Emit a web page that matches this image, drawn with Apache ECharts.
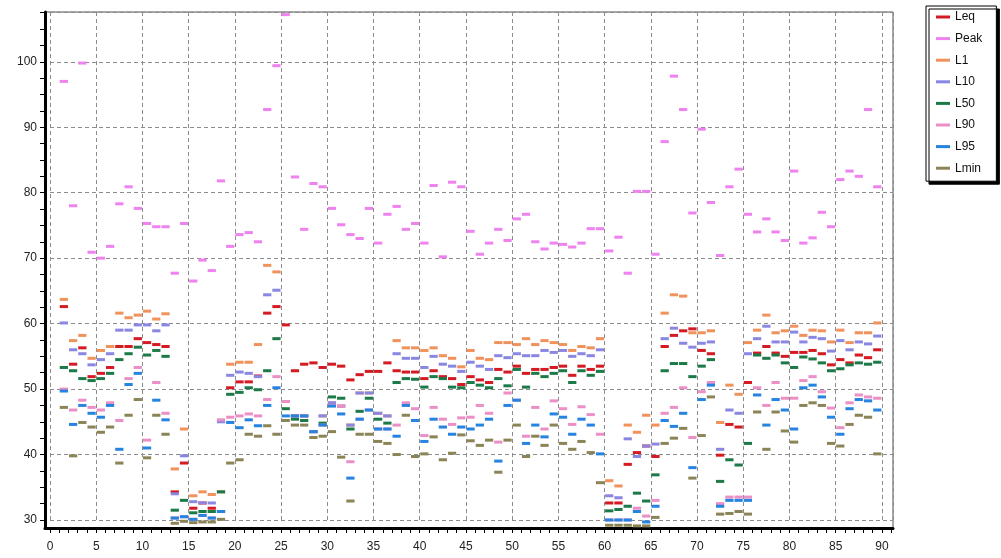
<!DOCTYPE html>
<html><head><meta charset="utf-8">
<script src="https://cdn.jsdelivr.net/npm/echarts@6/dist/echarts.min.js"></script>
<style>html,body{margin:0;padding:0;background:#fff}#c{width:1001px;height:558px}</style>
</head><body><div id="c"></div>
<script>
const seriesNames = ['Leq','Peak','L1','L10','L50','L90','L95','Lmin'];
const xLabels = [0,5,10,15,20,25,30,35,40,45,50,55,60,65,70,75,80,85,90];
const yLabels = [30,40,50,60,70,80,90,100];

const leq = [62.6,53.8,56.3,51.9,52.4,53.3,56.5,56.5,57.7,57.1,
 56.8,56.5,34.3,38.7,31.8,32.6,31.8,31.3,50.2,51.1,
 51.1,52.0,61.6,62.6,59.8,52.8,53.8,54.0,53.3,53.8,
 53.5,51.4,52.2,52.7,52.7,54.0,52.8,52.6,52.6,51.6,
 52.8,51.9,51.6,50.7,51.9,51.4,51.0,53.0,52.6,53.5,
 52.4,53.0,53.0,53.3,53.5,52.1,53.5,53.0,53.5,32.6,
 32.6,38.5,40.3,41.3,39.7,56.5,58.2,58.9,59.2,55.9,
 55.4,39.9,44.6,44.2,51.0,55.5,56.5,55.5,55.0,55.6,
 55.6,55.9,55.4,53.7,54.5,54.0,55.2,54.8,56.0];
const peak = [97.0,78.0,99.8,70.9,70.0,71.8,78.3,80.9,77.6,75.3,
 74.8,74.8,67.7,75.3,66.5,69.7,68.1,81.8,71.8,73.6,
 73.9,72.5,92.7,99.4,107.2,82.4,74.4,81.4,80.9,77.6,
 75.1,73.6,73.0,77.6,72.3,76.7,77.9,74.4,75.3,72.3,
 81.1,70.2,81.6,80.9,74.1,70.6,72.3,74.4,72.7,76.0,
 76.7,72.5,71.4,72.3,72.1,71.7,72.3,74.5,74.5,71.1,
 73.2,67.7,80.2,80.2,70.6,87.8,97.8,92.7,76.9,89.7,
 78.5,70.4,80.9,83.6,76.7,74.0,76.0,74.0,72.7,83.3,
 72.3,73.1,77.0,74.8,82.0,83.3,82.5,92.7,80.9];
const l1 = [63.7,57.4,58.2,54.7,55.9,56.5,61.6,60.9,61.3,61.9,
 60.7,61.5,37.8,43.9,33.7,34.3,33.9,34.3,53.8,54.1,
 54.1,56.8,68.9,67.9,48.1,45.9,45.9,43.5,45.9,47.9,
 47.4,44.5,49.4,49.4,46.3,45.9,57.4,56.3,56.3,55.9,
 56.3,55.1,54.7,53.4,55.9,54.7,54.5,57.1,57.1,56.8,
 57.7,56.8,57.4,57.1,56.8,55.9,56.5,56.3,57.7,36.0,
 35.2,44.5,43.4,46.0,44.5,61.6,64.4,64.2,58.6,58.6,
 58.9,44.9,50.6,49.2,57.1,59.0,61.3,58.6,58.9,59.6,
 58.2,59.0,58.9,57.2,59.0,57.1,58.6,58.6,60.1];
const l10 = [60.1,56.0,55.4,53.7,54.5,55.4,59.0,59.0,59.8,59.8,
 58.9,59.8,34.0,39.8,32.8,32.6,32.6,45.0,52.1,52.6,
 52.4,51.9,64.4,65.1,48.1,45.9,45.9,43.5,45.9,47.9,
 47.4,44.5,49.4,49.4,46.3,45.9,55.4,54.7,54.7,53.3,
 55.0,53.8,53.5,52.7,54.1,53.5,53.0,55.1,54.8,55.4,
 55.1,55.1,55.9,55.6,55.9,55.0,55.4,55.1,56.0,33.7,
 33.4,42.4,39.7,41.3,41.6,57.7,59.3,57.0,56.4,57.0,
 57.2,40.8,46.8,46.3,55.4,57.7,59.6,57.2,57.2,58.7,
 57.2,57.9,57.7,55.8,57.4,56.0,57.2,56.9,58.1];
const l50 = [53.3,52.8,51.6,51.3,51.6,52.4,54.5,55.4,56.4,55.2,
 55.9,55.0,31.5,33.0,31.1,31.3,31.3,34.3,49.2,49.5,
 50.2,49.9,52.8,57.7,47.0,45.4,45.2,43.5,44.8,48.8,
 48.6,43.9,46.6,48.6,45.4,44.8,51.0,51.6,51.5,50.3,
 51.9,51.6,50.3,50.2,51.0,50.6,50.2,51.6,50.5,53.0,
 50.3,52.4,51.9,52.4,52.8,51.0,52.8,52.1,52.7,31.4,
 31.6,32.1,34.1,32.9,36.9,52.8,53.9,53.9,51.9,53.5,
 54.5,35.9,39.2,38.4,41.7,55.2,54.7,55.2,54.0,53.3,
 54.9,54.6,54.0,52.8,53.1,53.7,54.0,53.8,54.1];
const l90 = [50.0,46.8,48.3,47.2,46.8,47.9,45.2,51.6,53.3,42.2,
 51.0,46.3,30.3,30.5,30.1,30.7,30.3,45.3,45.7,45.9,
 46.2,45.9,48.4,51.9,48.1,45.9,45.9,43.5,44.5,47.5,
 47.4,38.9,45.4,46.8,43.9,43.9,44.5,47.9,47.0,42.9,
 47.2,45.4,44.6,45.6,45.7,47.5,46.3,41.9,49.4,48.3,
 42.8,47.2,43.9,48.2,47.0,44.6,47.3,46.1,43.1,30.0,
 30.0,30.0,31.8,30.6,33.0,46.3,47.2,50.2,42.6,49.6,
 51.0,32.5,33.5,33.5,33.5,50.2,47.5,51.0,48.6,48.6,
 51.3,51.9,49.6,47.1,44.1,47.9,49.1,48.8,48.6];
const l95 = [49.7,44.6,47.5,46.3,45.7,47.5,40.8,50.7,52.4,41.0,
 48.3,45.3,30.3,30.5,30.1,30.7,30.3,31.3,44.9,44.1,
 45.3,44.4,47.5,50.2,45.9,45.9,45.9,43.5,44.5,47.4,
 46.2,36.4,45.4,46.8,43.9,43.9,42.8,47.5,45.2,42.0,
 45.4,44.2,43.1,44.2,43.9,44.5,45.4,39.0,47.5,48.3,
 41.7,44.5,42.7,46.2,45.7,43.1,45.4,44.5,40.1,30.0,
 30.0,30.0,31.3,29.7,32.1,45.2,44.3,46.3,38.0,48.4,
 50.6,32.1,33.0,33.0,33.0,49.1,44.5,48.4,46.8,43.9,
 50.2,50.6,48.8,45.7,43.1,47.0,48.4,48.2,46.8];
const lmin = [47.2,39.8,44.9,44.2,43.4,44.2,38.7,46.0,48.4,39.5,
 46.0,43.1,29.5,29.8,29.6,29.7,29.7,30.1,38.7,39.2,
 43.1,42.8,44.4,43.1,45.2,44.5,44.5,42.6,42.8,43.5,
 39.6,32.9,43.1,43.1,42.0,41.7,40.0,46.0,39.7,40.1,
 42.7,39.2,40.2,43.0,42.1,41.4,42.2,37.3,42.2,44.5,
 39.7,42.8,41.4,44.5,41.7,40.8,42.0,40.3,35.7,29.2,
 29.2,29.2,29.1,29.1,30.4,41.7,42.5,44.0,36.4,42.9,
 48.8,30.9,31.0,31.3,30.9,46.5,40.8,46.5,43.6,41.9,
 47.5,47.9,47.5,41.7,41.3,44.6,46.0,45.7,40.1];

const seriesValues = [leq, peak, l1, l10, l50, l90, l95, lmin];
const colors = ['#d41a22','#ee82ee','#f0925c','#8a87e2','#1b7a47','#eb8fc7','#2684e0','#8b8457'];

const xTicks = []; for (let t = 0; t <= 91; t++) xTicks.push(t);
const yTicks = []; for (let t = 30; t <= 107.5; t += 2.5) yTicks.push(t);

const FONT = 'Liberation Sans, Arial, sans-serif';
const gridDash = { type: [4, 3], color: '#8c8c8c', width: 1 };

function dashItem(params, api) {
  const i = api.value(0), v = api.value(1);
  const a = api.coord([i, v]);
  const b = api.coord([i + 1, v]);
  return {
    type: 'rect',
    shape: { x: a[0] + 0.5, y: a[1] - 1.5, width: b[0] - a[0] - 1, height: 3 },
    style: { fill: api.visual('color') }
  };
}

const chart = echarts.init(document.getElementById('c'), null, { renderer: 'canvas' });
chart.setOption({
  animation: false,
  color: colors,
  grid: [
    { left: 50, right: 108, top: 12, bottom: 38 },
    { left: 45, right: 108, top: 12, bottom: 30, show: true, borderColor: '#505050', borderWidth: 1, backgroundColor: 'transparent' }
  ],
  legend: {
    orient: 'vertical', left: 926, top: 6,
    icon: 'rect', itemWidth: 14, itemHeight: 3, itemGap: 7.6, itemTextGap: 7,
    padding: [4, 14, 6, 10],
    backgroundColor: '#fff', borderColor: '#000', borderWidth: 1,
    shadowColor: '#000', shadowOffsetX: 3, shadowOffsetY: 3, shadowBlur: 0,
    textStyle: { fontSize: 12, color: '#111', fontFamily: FONT, lineHeight: 14 },
    data: seriesNames
  },
  xAxis: [
    { gridIndex: 0, type: 'value', min: 0, max: 91.2, interval: 5, position: 'bottom', offset: 8,
      axisLine: { show: false, onZero: false }, axisTick: { show: false },
      axisLabel: { customValues: xLabels, margin: 13, fontSize: 12, color: '#222', fontFamily: FONT },
      splitLine: { show: true, lineStyle: gridDash } },
    { gridIndex: 0, type: 'value', min: 0, max: 91.2, position: 'bottom', offset: 8,
      axisLine: { show: false, onZero: false },
      axisTick: { show: true, customValues: xTicks, length: 5, lineStyle: { color: '#000', width: 1 } },
      axisLabel: { show: false }, splitLine: { show: false } },
    { gridIndex: 1, type: 'value', min: 0, max: 1, position: 'bottom',
      axisLine: { show: true, onZero: false, lineStyle: { color: '#000', width: 3 } },
      axisTick: { show: false }, axisLabel: { show: false }, splitLine: { show: false } }
  ],
  yAxis: [
    { gridIndex: 0, type: 'value', min: 30, max: 107.6, interval: 10, position: 'left', offset: 5,
      axisLine: { show: false, onZero: false }, axisTick: { show: false },
      axisLabel: { customValues: yLabels, margin: 8, fontSize: 12, color: '#222', fontFamily: FONT },
      splitLine: { show: true, lineStyle: gridDash } },
    { gridIndex: 0, type: 'value', min: 30, max: 107.6, position: 'left', offset: 5,
      axisLine: { show: false, onZero: false },
      axisTick: { show: true, customValues: yTicks, length: 5, lineStyle: { color: '#000', width: 1 } },
      axisLabel: { show: false }, splitLine: { show: false } },
    { gridIndex: 1, type: 'value', min: 0, max: 1, position: 'left',
      axisLine: { show: true, onZero: false, lineStyle: { color: '#000', width: 3 } },
      axisTick: { show: false }, axisLabel: { show: false }, splitLine: { show: false } }
  ],
  series: seriesNames.map((name, s) => ({
    name: name,
    type: 'custom',
    xAxisIndex: 0, yAxisIndex: 0,
    z: 3,
    renderItem: dashItem,
    encode: { x: 0, y: 1 },
    data: seriesValues[s].map((v, k) => [k + 1, v])
  }))
});
</script>
</body></html>
